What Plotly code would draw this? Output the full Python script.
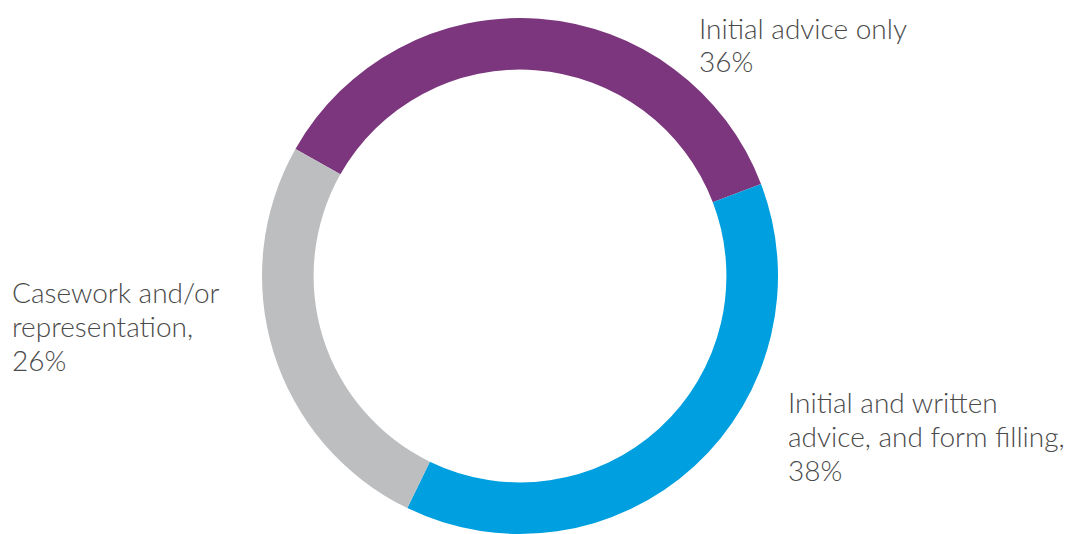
import plotly.graph_objects as go

labels = ["Initial advice only", "Initial and written advice, and form filling", "Casework and/or representation"]
values = [36, 38, 26]
colors = ["#7B367D", "#009FDF", "#BCBEC0"]

# label blocks: each line drawn separately for tight line spacing
label_lines = [
    ["Initial advice only", "36%"],
    ["Initial and written", "advice, and form filling,", "38%"],
    ["Casework and/or", "representation,", "26%"],
]

W, H = 1070, 534
cx, top = 520, 18
R = (H - top) / 2

fig = go.Figure(go.Pie(
    labels=labels,
    values=values,
    marker=dict(colors=colors, line=dict(width=0)),
    hole=0.80,
    sort=False,
    direction="clockwise",
    rotation=-60.5,
    textinfo="none",
    hoverinfo="label+percent",
    showlegend=False,
    domain=dict(x=[(cx - R) / W, (cx + R) / W], y=[0, (H - top) / H]),
))

font = dict(family="Lato Light, Lato", size=28, color="#4a4a4a", weight=300)
# (left x, first line centre y, line step) in pixels
positions = [(697, 28, 32.5), (786, 402, 34), (10, 292, 34)]
for lines, (x, y0, step) in zip(label_lines, positions):
    for i, line in enumerate(lines):
        fig.add_annotation(
            text=line, x=x / W, y=1 - (y0 + i * step) / H, xref="paper", yref="paper",
            xanchor="left", yanchor="middle", align="left", showarrow=False,
            font=font,
        )

fig.update_layout(
    width=W, height=H,
    margin=dict(l=0, r=0, t=0, b=0),
    paper_bgcolor="white", plot_bgcolor="white",
)
fig.write_html("out.html")
